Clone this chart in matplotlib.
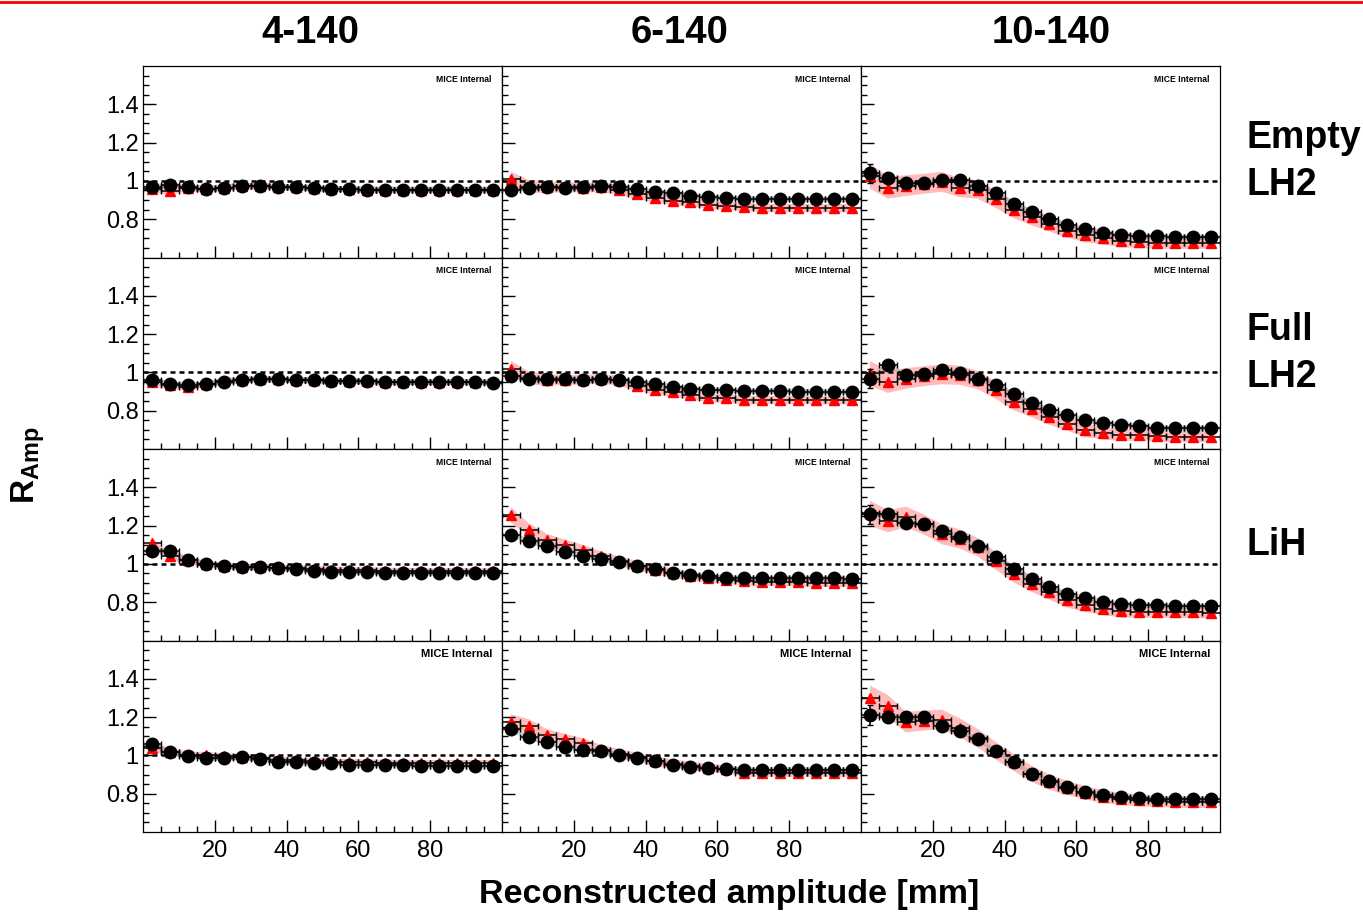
import numpy as np
import matplotlib
matplotlib.use("Agg")
import matplotlib.pyplot as plt
from matplotlib.lines import Line2D

plt.rcParams['font.family'] = ['Liberation Sans', 'DejaVu Sans']
plt.rcParams['mathtext.fontset'] = 'custom'
plt.rcParams['mathtext.rm'] = 'Liberation Sans'
plt.rcParams['mathtext.bf'] = 'Liberation Sans:bold'

# bin centres of reconstructed amplitude [mm]
amp = np.arange(2.5, 100, 5.0)

col_titles = ['4-140', '6-140', '10-140']
row_titles = ['Empty\nLH2', 'Full\nLH2', 'LiH', '']

# data (black) and simulation (red), one list per panel
data_e4 = [0.967, 0.978, 0.967, 0.958, 0.963, 0.973, 0.975, 0.970, 0.968, 0.963, 0.958, 0.957, 0.953, 0.953, 0.954, 0.954, 0.953, 0.954, 0.954, 0.954]
mc_e4 = [0.960, 0.948, 0.962, 0.958, 0.965, 0.972, 0.973, 0.968, 0.966, 0.962, 0.958, 0.957, 0.955, 0.955, 0.955, 0.955, 0.955, 0.955, 0.955, 0.955]
data_e6 = [0.953, 0.965, 0.968, 0.965, 0.966, 0.974, 0.970, 0.958, 0.942, 0.935, 0.923, 0.914, 0.913, 0.908, 0.907, 0.903, 0.903, 0.903, 0.903, 0.903]
mc_e6 = [1.008, 0.970, 0.968, 0.966, 0.965, 0.968, 0.953, 0.930, 0.913, 0.897, 0.889, 0.875, 0.870, 0.865, 0.858, 0.858, 0.858, 0.857, 0.857, 0.857]
data_e10 = [1.040, 1.015, 0.990, 0.990, 1.005, 1.005, 0.975, 0.935, 0.880, 0.835, 0.800, 0.770, 0.750, 0.730, 0.720, 0.710, 0.710, 0.705, 0.705, 0.705]
mc_e10 = [1.025, 0.965, 0.975, 0.985, 0.995, 0.965, 0.955, 0.905, 0.850, 0.810, 0.775, 0.740, 0.715, 0.700, 0.685, 0.680, 0.675, 0.675, 0.675, 0.675]

data_f4 = [0.960, 0.938, 0.935, 0.938, 0.951, 0.960, 0.965, 0.964, 0.960, 0.960, 0.956, 0.955, 0.953, 0.948, 0.948, 0.948, 0.948, 0.948, 0.948, 0.947]
mc_f4 = [0.950, 0.935, 0.922, 0.940, 0.953, 0.962, 0.964, 0.963, 0.960, 0.958, 0.956, 0.955, 0.953, 0.950, 0.950, 0.950, 0.950, 0.950, 0.950, 0.950]
data_f6 = [0.983, 0.965, 0.963, 0.963, 0.960, 0.963, 0.960, 0.948, 0.938, 0.925, 0.913, 0.908, 0.908, 0.903, 0.903, 0.903, 0.900, 0.900, 0.900, 0.900]
mc_f6 = [1.020, 0.970, 0.962, 0.960, 0.962, 0.966, 0.958, 0.930, 0.908, 0.896, 0.882, 0.865, 0.865, 0.856, 0.856, 0.856, 0.856, 0.855, 0.855, 0.855]
data_f10 = [0.968, 1.040, 0.985, 0.990, 1.010, 0.998, 0.968, 0.935, 0.887, 0.838, 0.803, 0.775, 0.752, 0.735, 0.726, 0.721, 0.709, 0.709, 0.709, 0.709]
mc_f10 = [0.995, 0.951, 0.968, 0.980, 0.990, 0.985, 0.960, 0.908, 0.847, 0.808, 0.766, 0.732, 0.697, 0.683, 0.674, 0.674, 0.668, 0.665, 0.665, 0.665]

data_l4 = [1.066, 1.069, 1.022, 1.000, 0.991, 0.983, 0.983, 0.976, 0.975, 0.965, 0.958, 0.958, 0.958, 0.953, 0.953, 0.953, 0.953, 0.953, 0.953, 0.953]
mc_l4 = [1.110, 1.040, 1.020, 0.998, 0.990, 0.985, 0.985, 0.980, 0.978, 0.975, 0.970, 0.968, 0.966, 0.965, 0.963, 0.962, 0.962, 0.962, 0.962, 0.961]
data_l6 = [1.152, 1.121, 1.092, 1.062, 1.040, 1.028, 1.010, 0.988, 0.974, 0.953, 0.941, 0.936, 0.927, 0.924, 0.924, 0.924, 0.924, 0.924, 0.924, 0.921]
mc_l6 = [1.256, 1.178, 1.127, 1.100, 1.074, 1.040, 1.014, 0.991, 0.970, 0.953, 0.936, 0.924, 0.918, 0.910, 0.906, 0.906, 0.905, 0.901, 0.901, 0.901]
data_l10 = [1.258, 1.258, 1.211, 1.206, 1.171, 1.139, 1.096, 1.035, 0.974, 0.922, 0.877, 0.844, 0.822, 0.801, 0.790, 0.784, 0.784, 0.778, 0.780, 0.780]
mc_l10 = [1.265, 1.223, 1.245, 1.206, 1.155, 1.130, 1.087, 1.017, 0.948, 0.896, 0.853, 0.809, 0.783, 0.766, 0.752, 0.749, 0.749, 0.747, 0.747, 0.745]

data_x4 = [1.061, 1.016, 0.998, 0.986, 0.986, 0.991, 0.980, 0.968, 0.963, 0.960, 0.960, 0.952, 0.952, 0.952, 0.952, 0.947, 0.947, 0.947, 0.947, 0.947]
mc_x4 = [1.040, 1.020, 1.002, 1.000, 0.995, 0.992, 0.985, 0.978, 0.974, 0.970, 0.968, 0.965, 0.963, 0.962, 0.961, 0.960, 0.960, 0.960, 0.960, 0.960]
data_x6 = [1.140, 1.095, 1.068, 1.044, 1.026, 1.021, 1.004, 0.987, 0.969, 0.952, 0.940, 0.935, 0.930, 0.926, 0.926, 0.926, 0.926, 0.924, 0.924, 0.924]
mc_x6 = [1.175, 1.155, 1.108, 1.085, 1.064, 1.030, 1.008, 0.990, 0.970, 0.955, 0.945, 0.935, 0.927, 0.910, 0.910, 0.910, 0.910, 0.910, 0.910, 0.906]
data_x10 = [1.211, 1.202, 1.202, 1.199, 1.154, 1.125, 1.085, 1.024, 0.963, 0.904, 0.864, 0.833, 0.809, 0.795, 0.783, 0.778, 0.772, 0.772, 0.772, 0.772]
mc_x10 = [1.300, 1.257, 1.174, 1.182, 1.187, 1.144, 1.090, 1.025, 0.963, 0.904, 0.860, 0.830, 0.805, 0.785, 0.772, 0.765, 0.760, 0.758, 0.756, 0.755]

# simulation band half-widths and data errors, per column
band_4 = [0.022, 0.020, 0.019, 0.018, 0.017, 0.017, 0.016, 0.016, 0.016, 0.016, 0.016, 0.016, 0.016, 0.016, 0.016, 0.016, 0.016, 0.016, 0.016, 0.016]
band_6 = [0.040, 0.034, 0.030, 0.027, 0.026, 0.026, 0.026, 0.025, 0.024, 0.024, 0.023, 0.022, 0.022, 0.022, 0.022, 0.022, 0.022, 0.022, 0.022, 0.022]
band_10 = [0.065, 0.058, 0.054, 0.052, 0.052, 0.050, 0.048, 0.046, 0.044, 0.042, 0.040, 0.037, 0.035, 0.033, 0.032, 0.031, 0.030, 0.030, 0.030, 0.030]
err_4 = [0.015, 0.010, 0.008, 0.007, 0.006, 0.006, 0.006, 0.006, 0.006, 0.006, 0.006, 0.006, 0.006, 0.006, 0.006, 0.006, 0.006, 0.006, 0.006, 0.006]
err_6 = [0.020, 0.012, 0.010, 0.009, 0.008, 0.008, 0.008, 0.008, 0.008, 0.008, 0.008, 0.008, 0.008, 0.008, 0.008, 0.008, 0.008, 0.008, 0.008, 0.008]
err_10 = [0.050, 0.025, 0.020, 0.016, 0.014, 0.013, 0.012, 0.012, 0.011, 0.011, 0.010, 0.010, 0.010, 0.010, 0.010, 0.010, 0.010, 0.010, 0.010, 0.010]

data_grid = [[data_e4, data_e6, data_e10],
             [data_f4, data_f6, data_f10],
             [data_l4, data_l6, data_l10],
             [data_x4, data_x6, data_x10]]
mc_grid = [[mc_e4, mc_e6, mc_e10],
           [mc_f4, mc_f6, mc_f10],
           [mc_l4, mc_l6, mc_l10],
           [mc_x4, mc_x6, mc_x10]]
bands = [band_4, band_6, band_10]
errs = [err_4, err_6, err_10]

fig, axes = plt.subplots(4, 3, figsize=(13.63, 9.24), dpi=100)
fig.subplots_adjust(left=143/1363, right=1220/1363, top=1-66/924, bottom=1-832/924,
                    wspace=0, hspace=0)

for r in range(4):
    for c in range(3):
        ax = axes[r, c]
        d = np.array(data_grid[r][c])
        m = np.array(mc_grid[r][c])
        b = np.array(bands[c])
        e = np.array(errs[c])

        ax.fill_between(amp, m - b, m + b, facecolor='#ffa0a0', edgecolor='none',
                        alpha=0.7, zorder=1)
        ax.fill_between(amp, d - 0.014, d + 0.014, facecolor='#a0a0a0', edgecolor='none',
                        alpha=0.5, zorder=2)
        ax.axhline(1.0, color='black', lw=1.8, ls=(0, (2, 1.6)), zorder=3)
        ax.errorbar(amp, m, xerr=2.5, fmt='^', color='red', ms=7.5, mec='red',
                    ecolor='black', elinewidth=1.1, capsize=2.5, zorder=4)
        ax.errorbar(amp, d, xerr=2.5, yerr=e, fmt='o', color='black', ms=9,
                    ecolor='black', elinewidth=1.1, capsize=2.5, zorder=5)

        ax.set_xlim(0, 100)
        ax.set_ylim(0.6, 1.6)
        ax.set_xticks([20, 40, 60, 80])
        ax.set_xticks(np.arange(5, 100, 5), minor=True)
        ax.set_yticks([0.8, 1.0, 1.2, 1.4])
        ax.set_yticks(np.arange(0.65, 1.6, 0.05), minor=True)
        ax.tick_params(which='major', direction='in', length=9, width=1, top=False, right=False)
        ax.tick_params(which='minor', direction='in', length=4.5, width=1, top=False, right=False)
        ax.tick_params(axis='y', labelsize=17, pad=3)
        ax.tick_params(axis='x', labelsize=17, pad=6)
        if c == 0:
            ax.set_yticklabels(['0.8', '1', '1.2', '1.4'])
        else:
            ax.set_yticklabels([])
        if r == 3:
            ax.set_xticklabels(['20', '40', '60', '80'])
        else:
            ax.set_xticklabels([])
        for s in ax.spines.values():
            s.set_linewidth(0.9)

        ax.text(0.972, 0.93, 'MICE Internal', transform=ax.transAxes, ha='right', va='center',
                fontsize=8 if r == 3 else 6.2, fontweight='bold')

    if row_titles[r]:
        axes[r, 2].text(1.075, 0.5, row_titles[r], transform=axes[r, 2].transAxes,
                        ha='left', va='center', fontsize=27, fontweight='bold', linespacing=1.4)

for c, x in enumerate([310, 680, 1051]):
    fig.text(x / 1363, 1 - 33 / 924, col_titles[c], ha='center', va='center',
             fontsize=27.5, fontweight='bold')

fig.text(28 / 1363, 1 - 465 / 924, r'$\mathbf{R}_{\mathbf{Amp}}$', rotation=90,
         ha='center', va='center', fontsize=24)
fig.text(729 / 1363, 1 - 895 / 924, 'Reconstructed amplitude [mm]', ha='center',
         va='center', fontsize=24.5, fontweight='bold')

fig.add_artist(Line2D([0, 1], [1 - 1.5 / 924, 1 - 1.5 / 924], color='red', lw=2,
                      transform=fig.transFigure))

fig.savefig('out.png', dpi=100)
